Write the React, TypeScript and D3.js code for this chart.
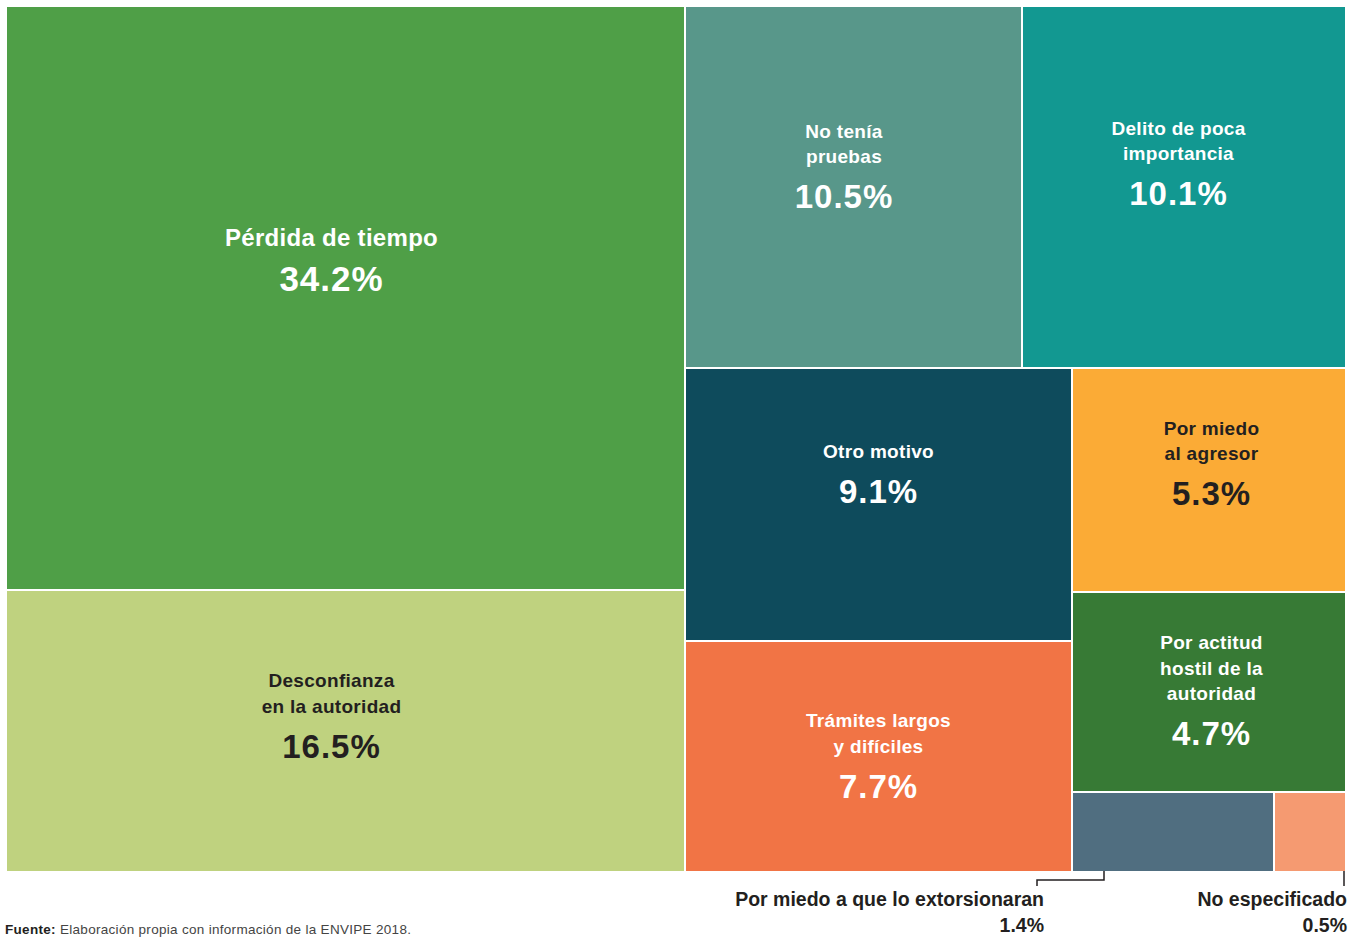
import React from "react";
import * as d3 from "d3";

const categories = [
  "Pérdida de tiempo",
  "Desconfianza en la autoridad",
  "No tenía pruebas",
  "Delito de poca importancia",
  "Otro motivo",
  "Trámites largos y difíciles",
  "Por miedo al agresor",
  "Por actitud hostil de la autoridad",
  "Por miedo a que lo extorsionaran",
  "No especificado",
];
const values = [34.2, 16.5, 10.5, 10.1, 9.1, 7.7, 5.3, 4.7, 1.4, 0.5];
const colors = [
  "#4f9f47",
  "#bfd27f",
  "#58978a",
  "#129891",
  "#0e4b5c",
  "#f17445",
  "#fbab36",
  "#377a35",
  "#506e80",
  "#f59a71",
];
const labelLines = [
  ["Pérdida de tiempo"],
  ["Desconfianza", "en la autoridad"],
  ["No tenía", "pruebas"],
  ["Delito de poca", "importancia"],
  ["Otro motivo"],
  ["Trámites largos", "y difíciles"],
  ["Por miedo", "al agresor"],
  ["Por actitud", "hostil de la", "autoridad"],
  ["Por miedo a que lo extorsionaran"],
  ["No especificado"],
];
const darkText = [false, true, false, false, false, false, true, false, false, false];
// nesting of the slice-and-dice layout (indices into the arrays above)
const groups = [[0, 1], [[2, 3], [[4, 5], [6, 7, [8, 9]]]]];

const W = 1362;
const H = 937;
const X0 = 7, Y0 = 7, X1 = 1345, Y1 = 871;
const FONT = "'Liberation Sans', Arial, sans-serif";
const INK = "#231f20";

// per-cell label placement tweaks: [dx, dy of percent baseline from cell centre]
const labelOffsets: Record<number, [number, number]> = {
  0: [-14, -7.5],
  1: [-14, 26.5],
  2: [-9.5, 21],
  3: [-5.5, 18],
  4: [0, -1.5],
  5: [0, 41],
  6: [2.5, 25],
  7: [2.5, 53],
};

function build(g: any): any {
  if (typeof g === "number") return { idx: g, value: values[g] };
  return { children: g.map(build) };
}

export default function App() {
  const root = d3
    .hierarchy(build(groups))
    .sum((d: any) => (d.children ? 0 : d.value));
  d3
    .treemap()
    .tile(d3.treemapSliceDice)
    .size([X1 - X0, Y1 - Y0])
    .paddingInner(2)
    .round(true)(root as any);
  const leaves = root.leaves() as any[];
  const byIdx: Record<number, any> = {};
  leaves.forEach((l) => (byIdx[l.data.idx] = l));

  const ext = byIdx[8];
  const nes = byIdx[9];
  const extX = X0 + ext.x0 + 31;
  const extBottom = Y0 + ext.y1;
  const nesX = X0 + nes.x1 - 1;

  return (
    <svg
      width={W}
      height={H}
      style={{ position: "absolute", left: 0, top: 0, background: "#fff" }}
      fontFamily={FONT}
    >
      <g transform={`translate(${X0},${Y0})`}>
        {leaves.map((l) => (
          <rect
            key={l.data.idx}
            x={l.x0}
            y={l.y0}
            width={l.x1 - l.x0}
            height={l.y1 - l.y0}
            fill={colors[l.data.idx]}
          />
        ))}
      </g>
      {leaves
        .filter((l) => labelOffsets[l.data.idx])
        .map((l) => {
          const i = l.data.idx;
          const [dx, dy] = labelOffsets[i];
          const cx = X0 + (l.x0 + l.x1) / 2 + dx;
          const cy = Y0 + (l.y0 + l.y1) / 2 + dy;
          const lines = labelLines[i];
          const fill = darkText[i] ? INK : "#ffffff";
          const fs = i === 0 ? 24 : 19;
          const pfs = i === 0 ? 35 : 33;
          return (
            <g key={i} fill={fill} textAnchor="middle" fontWeight="bold">
              {lines.map((t, k) => (
                <text
                  key={k}
                  x={cx}
                  y={cy - 45 - (lines.length - 1 - k) * 25.5}
                  fontSize={fs}
                  letterSpacing={0.3}
                >
                  {t}
                </text>
              ))}
              <text x={cx} y={cy} fontSize={pfs} letterSpacing={1}>
                {values[i].toFixed(1) + "%"}
              </text>
            </g>
          );
        })}
      {/* leader lines for small cells */}
      <path
        d={`M${extX},${extBottom}V${extBottom + 9}H${extX - 67}V${extBottom + 15}`}
        fill="none"
        stroke={INK}
        strokeWidth={1.5}
      />
      <path
        d={`M${nesX},${Y0 + nes.y1}V${Y0 + nes.y1 + 15}`}
        fill="none"
        stroke={INK}
        strokeWidth={1.5}
      />
      <g fill={INK} fontWeight="bold" textAnchor="end" fontSize={19.5}>
        <text x={extX - 60} y={906}>{labelLines[8][0]}</text>
        <text x={extX - 60} y={932}>{values[8].toFixed(1) + "%"}</text>
        <text x={1347} y={906}>{labelLines[9][0]}</text>
        <text x={1347} y={932}>{values[9].toFixed(1) + "%"}</text>
      </g>
      <text x={5} y={934} fontSize={13.5} fill="#444" letterSpacing={0.3}>
        <tspan fontWeight="bold" fill={INK}>Fuente:</tspan>
        <tspan> Elaboración propia con información de la ENVIPE 2018.</tspan>
      </text>
    </svg>
  );
}
